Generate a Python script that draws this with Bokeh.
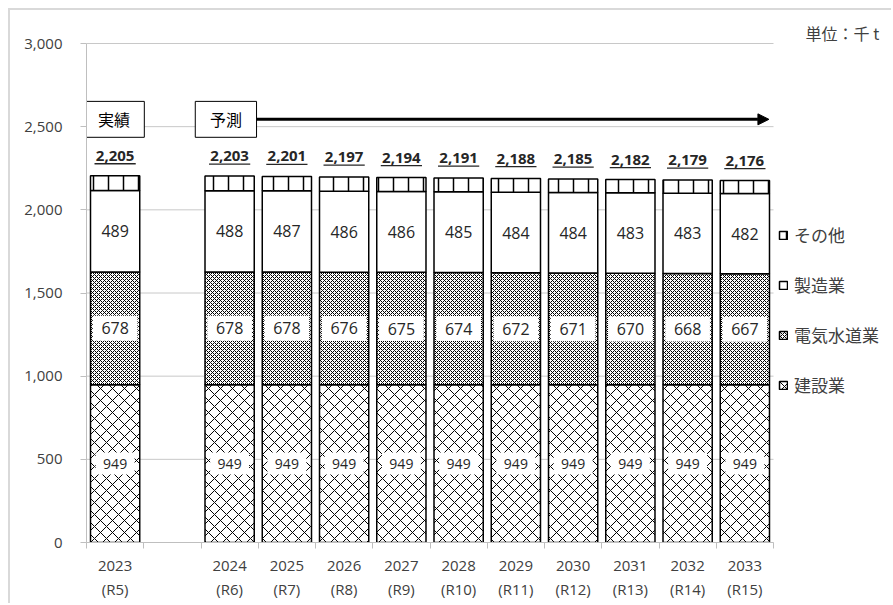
from bokeh.plotting import figure
from bokeh.models import (FixedTicker, NumeralTickFormatter, Legend, LegendItem,
                          Arrow, NormalHead, Label, Range1d)
from bokeh.core.properties import value
from bokeh.embed import file_html
from bokeh.resources import INLINE

# ---- data ----
years = ["2023", "2024", "2025", "2026", "2027", "2028", "2029", "2030", "2031", "2032", "2033"]
eras = ["R5", "R6", "R7", "R8", "R9", "R10", "R11", "R12", "R13", "R14", "R15"]
construction = [949, 949, 949, 949, 949, 949, 949, 949, 949, 949, 949]
utilities = [678, 678, 678, 676, 675, 674, 672, 671, 670, 668, 667]
manufacturing = [489, 488, 487, 486, 486, 485, 484, 484, 483, 483, 482]
other = [89, 88, 87, 86, 84, 83, 83, 81, 80, 79, 78]
totals = [2205, 2203, 2201, 2197, 2194, 2191, 2188, 2185, 2182, 2179, 2176]
series_names = ["建設業", "電気水道業", "製造業", "その他"]
y_ticks = [0, 500, 1000, 1500, 2000, 2500, 3000]
unit_text = "単位：千 t"
actual_text = "実績"
forecast_text = "予測"

JP = "Noto Sans CJK JP"
NUM = "Open Sans"
TXT = "#404040"

# slot positions: first year, then one empty slot, then forecast years
slots = [0] + [i + 1 for i in range(1, len(years))]
xs = [s + 0.5 for s in slots]
n_slots = slots[-1] + 1
y_max = y_ticks[-1]

# geometry of the figure (pixels)
W, H = 883, 595
BL, BB = 76, 63
slot_px = 687.0 / n_slots
axis_px = 499.0
frame_w = W - BL
frame_h = H - BB
x_end = frame_w / slot_px
y_end = frame_h * y_max / axis_px
px_per_unit = axis_px / y_max

p = figure(width=W, height=H, output_backend="svg", toolbar_location=None,
           x_range=Range1d(0, x_end), y_range=Range1d(0, y_end),
           min_border_left=BL, min_border_right=0, min_border_top=0, min_border_bottom=BB)
p.styles = {"margin-left": "8px", "margin-top": "8px",
            "border-top": "2px solid #d9d9d9", "border-left": "2px solid #d9d9d9"}
p.outline_line_color = None
p.background_fill_color = "white"
p.border_fill_color = "white"
p.xgrid.visible = False
p.ygrid.visible = False

# horizontal gridlines (only across the category area)
p.segment(x0=[0] * len(y_ticks), x1=[n_slots] * len(y_ticks), y0=y_ticks, y1=y_ticks,
          line_color="#c8c8c8", line_width=1)

# stacked bars
bw = 0.86
b0 = [0] * len(years)
b1 = construction
b2 = [a + b for a, b in zip(b1, utilities)]
b3 = [a + b for a, b in zip(b2, manufacturing)]
b4 = [a + b for a, b in zip(b3, other)]

r_con = p.vbar(x=xs, width=bw, bottom=b0, top=b1, fill_color="white", line_color="black",
               line_width=1.5, hatch_pattern="x", hatch_color="black", hatch_scale=12,
               hatch_weight=1)
r_uti = p.vbar(x=xs, width=bw, bottom=b1, top=b2, fill_color="white", line_color="black",
               line_width=1.5, hatch_pattern="x", hatch_color="black", hatch_scale=4,
               hatch_weight=1)
r_man = p.vbar(x=xs, width=bw, bottom=b2, top=b3, fill_color="white", line_color="black",
               line_width=1.5)
r_oth = p.vbar(x=xs, width=bw, bottom=b3, top=b4, fill_color="white", line_color="black",
               line_width=1.5, hatch_pattern="|", hatch_color="black", hatch_scale=15,
               hatch_weight=1.5)

# segment value labels
mid_con = [b + v / 2 for b, v in zip(b0, construction)]
mid_uti = [b + v / 2 for b, v in zip(b1, utilities)]
mid_man = [b + v / 2 for b, v in zip(b2, manufacturing)]
p.rect(x=xs, y=mid_con, width=0.68, height=22, height_units="screen",
       fill_color="white", line_color=None)
p.rect(x=xs, y=mid_uti, width=0.78, height=25, height_units="screen",
       fill_color="white", line_color=None)
for mids, vals, fs in ((mid_con, construction, "14px"), (mid_uti, utilities, "16px"),
                       (mid_man, manufacturing, "16px")):
    p.text(x=xs, y=mids, text=[str(v) for v in vals], text_align="center",
           text_baseline="middle", text_font=value(NUM), text_font_size=fs,
           text_color="#262626")

# totals (bold, underlined)
p.text(x=xs, y=[t + 20 / px_per_unit for t in totals], text=[f"{t:,}" for t in totals],
       text_align="center", text_baseline="middle", text_font=value(NUM),
       text_font_size="15px", text_font_style="bold", text_color="#262626")
p.segment(x0=[x - 0.36 for x in xs], x1=[x + 0.36 for x in xs],
          y0=[t + 12 / px_per_unit for t in totals], y1=[t + 12 / px_per_unit for t in totals],
          line_color="#262626", line_width=1.3)

# actual / forecast boxes and arrow
box_y = 2544
box_h = 216
p.quad(left=[-0.05, slots[1] - 0.1], right=[1.01, slots[1] + 0.97],
       bottom=[box_y - box_h / 2] * 2, top=[box_y + box_h / 2] * 2,
       fill_color="white", line_color="black", line_width=1)
p.text(x=[0.48, slots[1] + 0.435], y=[box_y, box_y], text=[actual_text, forecast_text],
       text_align="center", text_baseline="middle", text_font=value(JP),
       text_font_size="16px", text_color="black")
p.add_layout(Arrow(end=NormalHead(size=11, fill_color="black", line_color="black"),
                   x_start=slots[1] + 0.97, y_start=box_y, x_end=11.92, y_end=box_y,
                   line_width=3, line_color="black"))

# unit label
p.add_layout(Label(x=12.56, y=3061, text=unit_text, text_font=JP, text_font_size="16px",
                   text_color=TXT, text_baseline="middle"))

# axes
p.xaxis.bounds = (0, n_slots)
p.xaxis.ticker = FixedTicker(ticks=xs, minor_ticks=list(range(n_slots + 1)))
p.xaxis.major_label_overrides = {x: f"{y}\n({e})" for x, y, e in zip(xs, years, eras)}
p.xaxis.major_tick_out = 0
p.xaxis.major_tick_in = 0
p.xaxis.minor_tick_out = 6
p.xaxis.minor_tick_in = 0
p.xaxis.minor_tick_line_color = "#bfbfbf"
p.xaxis.axis_line_color = "#bfbfbf"
p.xaxis.major_label_text_font = NUM
p.xaxis.major_label_text_font_size = "15px"
p.xaxis.major_label_text_color = TXT
p.xaxis.major_label_standoff = 6

p.yaxis.bounds = (0, y_max)
p.yaxis.ticker = FixedTicker(ticks=y_ticks)
p.yaxis.formatter = NumeralTickFormatter(format="0,0")
p.yaxis.major_tick_out = 6
p.yaxis.major_tick_in = 0
p.yaxis.minor_tick_line_color = None
p.yaxis.major_tick_line_color = "#bfbfbf"
p.yaxis.axis_line_color = "#bfbfbf"
p.yaxis.major_label_text_font = NUM
p.yaxis.major_label_text_font_size = "15px"
p.yaxis.major_label_text_color = TXT
p.yaxis.major_label_standoff = 18

# legend (top to bottom: その他, 製造業, 電気水道業, 建設業)
legend = Legend(items=[LegendItem(label=series_names[3], renderers=[r_oth]),
                       LegendItem(label=series_names[2], renderers=[r_man]),
                       LegendItem(label=series_names[1], renderers=[r_uti]),
                       LegendItem(label=series_names[0], renderers=[r_con])],
                location=(692, 145), orientation="vertical",
                glyph_width=10, glyph_height=10, label_height=25, spacing=25,
                padding=0, margin=0, border_line_color=None, background_fill_alpha=0,
                label_text_font=JP, label_text_font_size="17px", label_text_color=TXT,
                label_standoff=6)
p.add_layout(legend, "center")

open("out.html", "w").write(file_html(p, INLINE))
